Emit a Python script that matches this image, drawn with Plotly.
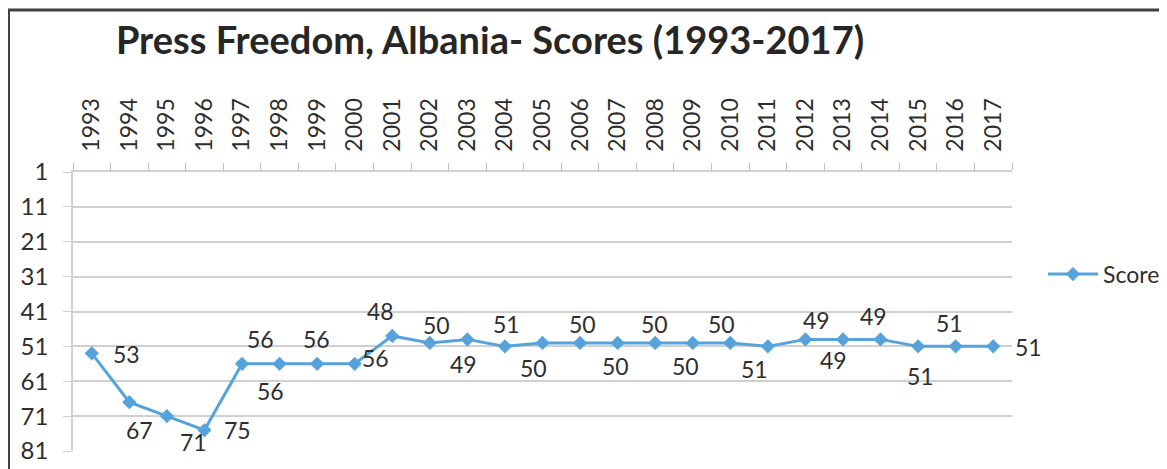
import plotly.graph_objects as go

# ---- data ----
years = [str(y) for y in range(1993, 2018)]
scores = [53, 67, 71, 75, 56, 56, 56, 56, 48, 50, 49, 51, 50, 50, 50, 50, 50, 50, 51, 49, 49, 49, 51, 51, 51]
y_ticks = [1, 11, 21, 31, 41, 51, 61, 71, 81]
series_name = "Score"
title_text = "Press Freedom, Albania- Scores (1993-2017)"

# ---- label offsets (pixels, styling only) ----
label_dx = [35, 10, 27, 33, 18, -9, -1, 21, -12, 7, -4, 2, -9, 2, -2, -1, -7, -9, -13, 11, -9, -7, 2, -6, 35]
label_dy = [1, 28, 26, 0, -25, 27, -25, -6, -25, -18, 25, -22, 25, -19, 23, -19, 23, -19, 23, -19, 21, -23, 30, -23, 1]

LINE = "#55A3DA"
TXT = "#2E2E2E"
GRID = "#D0D0D0"
FONT = "Lato"
W, H = 1159, 461

fig = go.Figure()
fig.add_trace(go.Scatter(
    x=years, y=scores, mode="lines+markers", name=series_name,
    line=dict(color=LINE, width=3),
    marker=dict(symbol="diamond", size=11, color=LINE),
))

for i, (v, dx, dy) in enumerate(zip(scores, label_dx, label_dy)):
    fig.add_annotation(x=i, y=v, xref="x", yref="y", text=str(v), showarrow=False,
                       xshift=dx, yshift=-dy,
                       font=dict(family=FONT, size=23, color=TXT))

fig.add_shape(type="rect", xref="paper", yref="paper",
              x0=-0.0687, x1=1.4, y0=-0.4, y1=1.5806,
              line=dict(color="#404046", width=3), layer="below")

fig.update_layout(
    width=W, height=H,
    margin=dict(l=65, r=155, t=164, b=18, autoexpand=False),
    paper_bgcolor="white", plot_bgcolor="white",
    font=dict(family=FONT, size=22, color=TXT),
    title=dict(text=title_text, xref="container", yref="container",
               x=482 / W, xanchor="center", y=1 - 33 / H, yanchor="middle",
               font=dict(family=FONT, size=38, color="#262626", weight="bold")),
    showlegend=True,
    legend=dict(x=(1157 - 65) / 939, y=0.634, xanchor="right", yanchor="middle",
                itemwidth=50, borderwidth=0,
                font=dict(family=FONT, size=23, color=TXT),
                bgcolor="rgba(0,0,0,0)"),
    xaxis=dict(type="category", side="top", tickangle=-90,
               range=[-0.5, 24.5], showgrid=False,
               showline=True, linecolor=GRID, linewidth=1.5,
               ticks="outside", tickson="boundaries", ticklen=7, tickcolor="#BFBFBF",
               ticklabelstandoff=14,
               tickfont=dict(family=FONT, size=23, color=TXT)),
    yaxis=dict(range=[81, 1], tickvals=y_ticks, showgrid=True, gridcolor=GRID, gridwidth=1.5,
               showline=True, linecolor=GRID, linewidth=1.5, zeroline=False,
               ticks="outside", ticklen=8, tickcolor=GRID,
               ticklabelstandoff=10,
               tickfont=dict(family=FONT, size=24, color=TXT)),
)

fig.write_html("out.html")
